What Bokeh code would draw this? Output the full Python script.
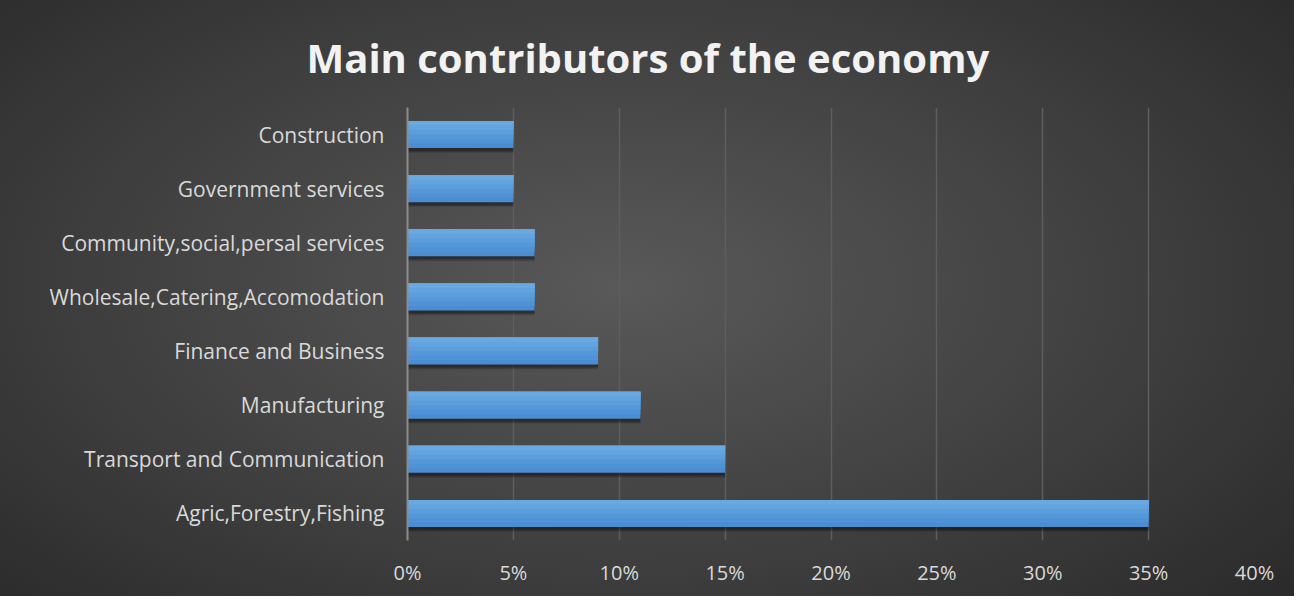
from bokeh.plotting import figure
from bokeh.models import NumeralTickFormatter, FixedTicker
from bokeh.transform import dodge
from bokeh.embed import file_html
from bokeh.resources import INLINE

categories = [
    "Agric,Forestry,Fishing",
    "Transport and Communication",
    "Manufacturing",
    "Finance and Business",
    "Wholesale,Catering,Accomodation",
    "Community,social,persal services",
    "Government services",
    "Construction",
]
shares = [0.35, 0.15, 0.11, 0.09, 0.06, 0.06, 0.05, 0.05]
tick_values = [0, 0.05, 0.10, 0.15, 0.20, 0.25, 0.30, 0.35, 0.40]
title_text = "Main contributors of the economy"

data = dict(cat=categories, val=shares)

p = figure(
    y_range=categories,
    x_range=(0, 0.40),
    width=1294, height=596,
    output_backend="svg",
    toolbar_location=None,
    min_border_left=407, min_border_right=40,
    min_border_top=107, min_border_bottom=56,
)
p.styles = {"background-image": "radial-gradient(ellipse 75% 85% at 48% 48%, #595959 0%, #3e3e3e 55%, #262626 100%)"}
p.background_fill_alpha = 0
p.border_fill_alpha = 0
p.outline_line_color = None

p.title.text = title_text
p.title.align = "left"
p.title.offset = -101
p.title.standoff = 46
p.title.text_color = "#f2f2f2"
p.title.text_font = "Open Sans"
p.title.text_font_style = "bold"
p.title.text_font_size = "40px"

# soft shadow
for off, a in [(-0.09, 0.12), (-0.07, 0.18), (-0.05, 0.2)]:
    p.hbar(y=dodge("cat", off, range=p.y_range), right="val", left=0, height=0.5,
           source=data, fill_color="black", fill_alpha=a, line_color=None)

# gradient bar: overlapping layers from the top edge downwards
cols = ["#4a8dd2", "#4f92d5", "#5598d9", "#5c9edc", "#63a3df", "#6aa8e1"]
n = len(cols)
for k, c in enumerate(cols):
    hk = 0.5 * (n - k) / n
    p.hbar(y=dodge("cat", 0.25 - hk / 2, range=p.y_range), right="val", left=0, height=hk,
           source=data, fill_color=c, line_color=None)

p.xaxis.ticker = FixedTicker(ticks=tick_values)
p.xaxis.formatter = NumeralTickFormatter(format="0%")
p.xaxis.axis_line_color = None
p.xaxis.major_tick_line_color = None
p.xaxis.minor_tick_line_color = None
p.xaxis.major_label_text_color = "#d9d9d9"
p.xaxis.major_label_text_font = "Open Sans"
p.xaxis.major_label_text_font_size = "20px"
p.xaxis.major_label_standoff = 12

p.yaxis.axis_line_color = "#8c8c8c"
p.yaxis.axis_line_width = 2
p.yaxis.major_tick_line_color = None
p.yaxis.minor_tick_line_color = None
p.yaxis.major_label_text_color = "#d9d9d9"
p.yaxis.major_label_text_font = "Open Sans"
p.yaxis.major_label_text_font_size = "21px"
p.yaxis.major_label_standoff = 17

p.ygrid.grid_line_color = None
p.xgrid.grid_line_color = "#5e5e5e"
p.xgrid.grid_line_width = 1.5

open("out.html", "w").write(file_html(p, INLINE))
